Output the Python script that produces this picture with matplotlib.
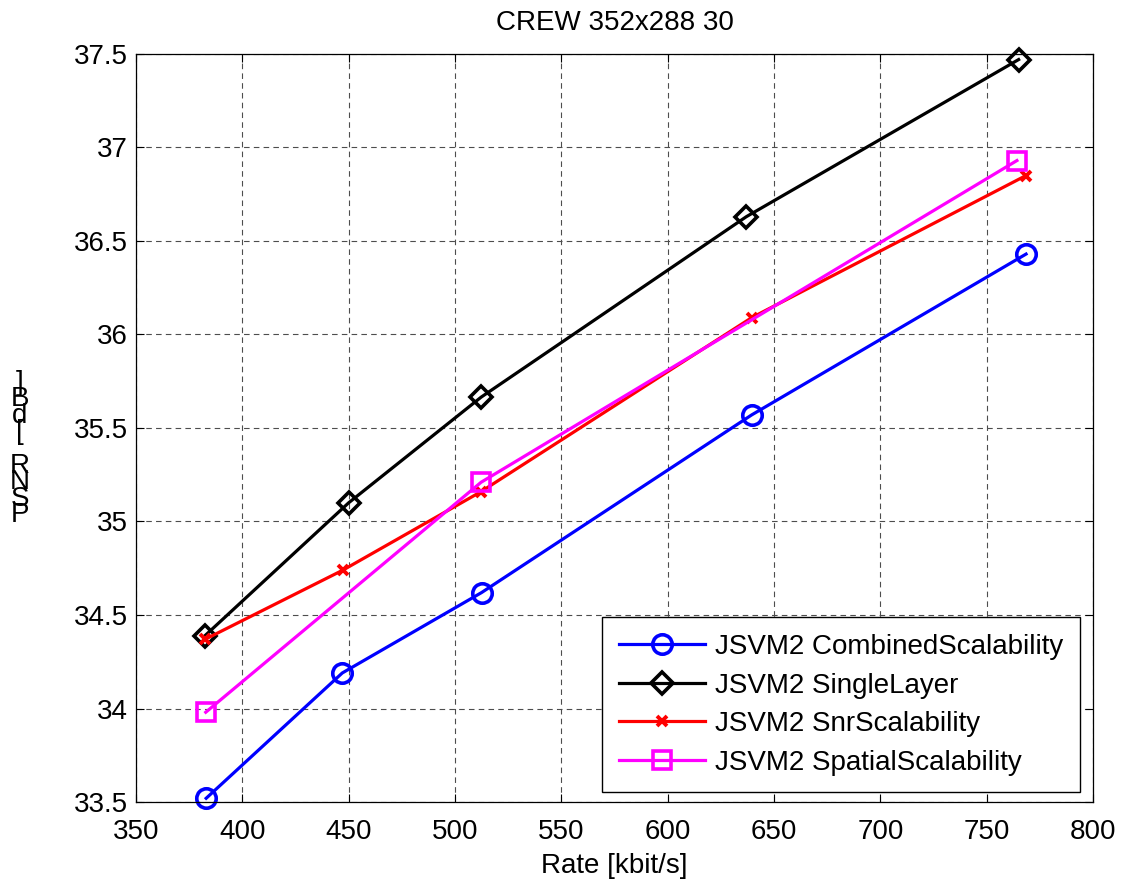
import numpy as np
import matplotlib
matplotlib.use('Agg')
import matplotlib.pyplot as plt

plt.rcParams['font.family'] = ['Liberation Sans', 'DejaVu Sans']

# 数据
title = 'CREW 352x288 30'
xlabel = 'Rate [kbit/s]'
ylabel = 'PSNR [dB]'

x_comb = [383.0, 447.0, 512.5, 639.5, 768.5]
y_comb = [33.52, 34.19, 34.62, 35.57, 36.43]

x_single = [382.5, 450.0, 512.3, 637.0, 765.0]
y_single = [34.39, 35.10, 35.665, 36.63, 37.47]

x_snr = [382.5, 447.3, 512.3, 639.5, 768.5]
y_snr = [34.37, 34.74, 35.16, 36.09, 36.85]

x_spat = [382.8, 512.3, 764.2]
y_spat = [33.98, 35.21, 36.93]

labels = ['JSVM2 CombinedScalability', 'JSVM2 SingleLayer',
          'JSVM2 SnrScalability', 'JSVM2 SpatialScalability']

xticks = np.arange(350, 801, 50)
yticks = np.arange(33.5, 37.51, 0.5)
ytick_labels = ['33.5', '34', '34.5', '35', '35.5', '36', '36.5', '37', '37.5']

fs = 20

fig = plt.figure(figsize=(11.22, 8.86), dpi=100)
ax = fig.add_axes([0.1212, 0.0948, 0.8530, 0.8443])

ax.plot(x_comb, y_comb, '-o', color='#0000ff', lw=2.3, ms=14, mfc='none', mew=2.6,
        label=labels[0], clip_on=False)
ax.plot(x_single, y_single, '-D', color='black', lw=2.3, ms=11, mfc='none', mew=2.6,
        label=labels[1], clip_on=False)
ax.plot(x_snr, y_snr, '-x', color='#ff0000', lw=2.3, ms=6.5, mew=2.8,
        label=labels[2], clip_on=False)
ax.plot(x_spat, y_spat, '-s', color='#ff00ff', lw=2.3, ms=13, mfc='none', mew=2.6,
        label=labels[3], clip_on=False)

ax.set_xlim(350, 800)
ax.set_ylim(33.5, 37.5)
ax.set_xticks(xticks)
ax.set_yticks(yticks)
ax.set_yticklabels(ytick_labels)
ax.tick_params(direction='in', length=6, width=0.8, top=True, right=True,
               labelsize=fs)
ax.tick_params(axis='x', pad=12)
ax.tick_params(axis='y', pad=6)
ax.grid(True, color='#4d4d4d', linestyle=(0, (5, 3.8)), linewidth=0.8)
for s in ax.spines.values():
    s.set_linewidth(0.9)

ax.set_title(title, fontsize=fs, pad=17)
ax.set_xlabel(xlabel, fontsize=fs, labelpad=6)

# 纵轴标签：逐字竖排（一个多行文本）
ylab_text = '\n'.join(reversed(list(ylabel)))
fig.text(20 / 1122, 1 - 449 / 886, ylab_text, fontsize=fs, linespacing=0.53,
         ha='center', va='center', multialignment='center')

leg = ax.legend(loc='lower right', bbox_to_anchor=(0.986, 0.013), borderaxespad=0,
                fontsize=fs, fancybox=False, framealpha=1, edgecolor='black',
                handlelength=3.1, handletextpad=0.35, labelspacing=0.45, borderpad=0.6)
leg.get_frame().set_linewidth(1.0)

fig.savefig('out.png', dpi=100)
